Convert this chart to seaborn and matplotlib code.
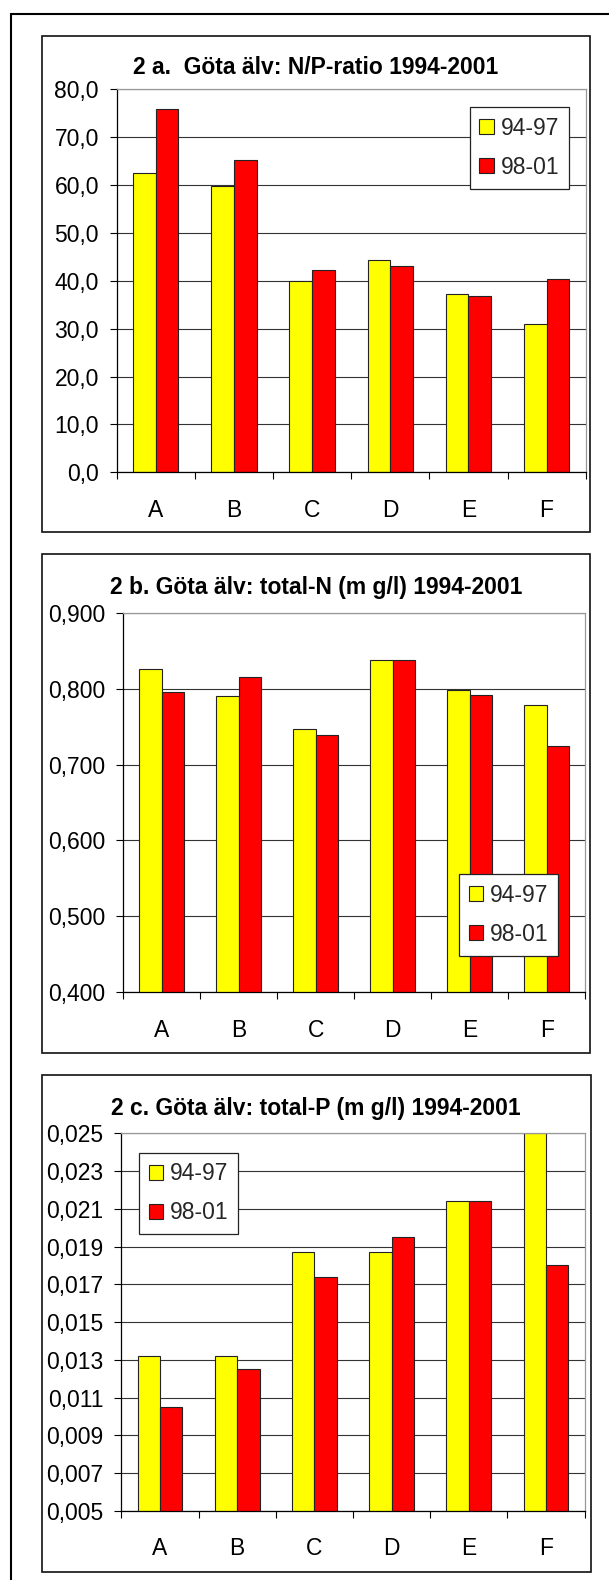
import numpy as np
import pandas as pd
import matplotlib
matplotlib.use("Agg")
import matplotlib.pyplot as plt
from matplotlib.patches import Rectangle, Patch
import seaborn as sns

# Sampling sites and periods
sites = ["A", "B", "C", "D", "E", "F"]
periods = ["94-97", "98-01"]

# 2a: N/P ratio
np_ratio_9497 = [62.5, 59.8, 40.0, 44.4, 37.3, 30.9]
np_ratio_9801 = [75.9, 65.2, 42.2, 43.1, 36.8, 40.4]

# 2b: total-N (mg/l)
tot_n_9497 = [0.826, 0.790, 0.747, 0.838, 0.798, 0.778]
tot_n_9801 = [0.795, 0.815, 0.739, 0.838, 0.792, 0.724]

# 2c: total-P (mg/l)
tot_p_9497 = [0.0132, 0.0132, 0.0187, 0.0187, 0.0214, 0.0250]
tot_p_9801 = [0.0105, 0.0125, 0.0174, 0.0195, 0.0214, 0.0180]

titles = [
    "2 a.  Göta älv: N/P-ratio 1994-2001",
    "2 b. Göta älv: total-N (m g/l) 1994-2001",
    "2 c. Göta älv: total-P (m g/l) 1994-2001",
]

sns.set_theme(style="white")
plt.rcParams["font.family"] = ["Liberation Sans", "DejaVu Sans"]

W, H = 609, 1580
fig = plt.figure(figsize=(W / 100, H / 100), dpi=100)
fig.patch.set_facecolor("white")

FS = 16.5
colors = ["#FFFF00", "#FF0000"]


def fx(px):
    return px / W


def fy(py):
    return 1 - py / H


def frame(x0, y0, x1, y1, lw, color="black"):
    fig.patches.append(Rectangle((fx(x0), fy(y1)), fx(x1) - fx(x0), fy(y0) - fy(y1),
                                 transform=fig.transFigure, fill=False,
                                 edgecolor=color, linewidth=lw, zorder=0))


def make_panel(vals_a, vals_b, box, plot, ylim, yticks, fmt, title, title_y, leg_xy):
    frame(*box, lw=1.2, color="#111111")
    left, top, right, bottom = plot
    ax = fig.add_axes([fx(left), fy(bottom), fx(right) - fx(left), fy(top) - fy(bottom)])
    df = pd.DataFrame({
        "site": sites * 2,
        "period": [periods[0]] * 6 + [periods[1]] * 6,
        "value": list(vals_a) + list(vals_b),
    })
    sns.barplot(data=df, x="site", y="value", hue="period", palette=colors,
                width=0.58, saturation=1, edgecolor="#222222", linewidth=0.8,
                legend=False, ax=ax)
    ax.set_xlim(-0.5, 5.5)
    ax.set_ylim(*ylim)
    ax.set_yticks(yticks)
    ax.set_yticklabels([fmt(v) for v in yticks], fontsize=FS)
    ax.set_xticks(range(6))
    ax.set_xticklabels(sites, fontsize=FS)
    ax.set_xticks(np.arange(-0.5, 6.0, 1.0), minor=True)
    ax.set_xlabel("")
    ax.set_ylabel("")
    ax.tick_params(axis="x", which="major", length=0, pad=19, colors="black")
    ax.tick_params(axis="x", which="minor", length=4.8, width=0.8, direction="out",
                   color="black", bottom=True)
    ax.tick_params(axis="y", which="major", length=4.8, width=0.8, direction="out",
                   pad=8, color="black", left=True, labelcolor="black")
    ax.yaxis.grid(True, color="#333333", linewidth=0.8)
    ax.xaxis.grid(False)
    ax.set_axisbelow(True)
    for s in ["left", "bottom"]:
        ax.spines[s].set_color("black")
        ax.spines[s].set_linewidth(0.9)
    for s in ["top", "right"]:
        ax.spines[s].set_color("#999999")
        ax.spines[s].set_linewidth(0.9)
    ax.set_facecolor("white")

    fig.text(fx((box[0] + box[2]) / 2), fy(title_y), title, ha="center", va="baseline",
             fontsize=FS, fontweight="bold", color="black")

    handles = [Patch(facecolor=c, edgecolor="#222222", linewidth=0.8) for c in colors]
    leg = ax.legend(handles, periods, loc="upper left",
                    bbox_to_anchor=(fx(leg_xy[0]), fy(leg_xy[1])),
                    bbox_transform=fig.transFigure, borderaxespad=0,
                    fontsize=FS, frameon=True, fancybox=False, framealpha=1,
                    borderpad=0.42, labelspacing=0.7, handlelength=0.64,
                    handleheight=0.64, handletextpad=0.29)
    leg.get_frame().set_edgecolor("#222222")
    leg.get_frame().set_linewidth(0.9)
    return ax


# Outer frame around all three charts (right and bottom edges run off the page)
frame(10.7, 14.3, 615, 1590, lw=1.5)

make_panel(np_ratio_9497, np_ratio_9801,
           box=(41.7, 35.7, 589.7, 532.3), plot=(116.7, 89.3, 585.7, 472.3),
           ylim=(0, 80), yticks=np.arange(0, 81, 10),
           fmt=lambda v: f"{v:.1f}".replace(".", ","),
           title=titles[0], title_y=74, leg_xy=(469.7, 107.3))

make_panel(tot_n_9497, tot_n_9801,
           box=(42.3, 554.3, 590.0, 1052.7), plot=(123.3, 612.7, 585.3, 992.3),
           ylim=(0.4, 0.9), yticks=np.round(np.arange(0.4, 0.901, 0.1), 3),
           fmt=lambda v: f"{v:.3f}".replace(".", ","),
           title=titles[1], title_y=594, leg_xy=(459.0, 874.3))

make_panel(tot_p_9497, tot_p_9801,
           box=(41.7, 1075.0, 590.7, 1571.7), plot=(121.3, 1133.3, 584.7, 1511.0),
           ylim=(0.005, 0.025), yticks=np.round(np.arange(0.005, 0.0251, 0.002), 3),
           fmt=lambda v: f"{v:.3f}".replace(".", ","),
           title=titles[2], title_y=1115, leg_xy=(139.0, 1152.7))

fig.savefig("out.png", dpi=100, facecolor="white")
